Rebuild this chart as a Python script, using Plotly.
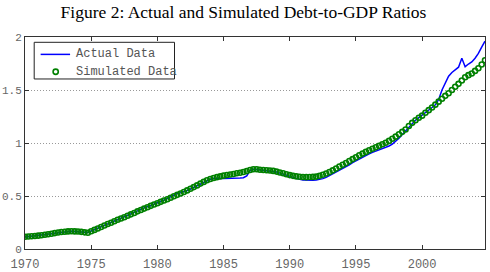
import numpy as np
import plotly.graph_objects as go

# Quarterly observations, 1970Q1 .. 2004Q4
start_year = 1970
n_quarters = 140
quarters = start_year + np.arange(n_quarters) / 4.0

actual = [
    0.113, 0.117, 0.121, 0.124,   # 1970
    0.127, 0.131, 0.135, 0.140,   # 1971
    0.145, 0.151, 0.156, 0.161,   # 1972
    0.164, 0.167, 0.167, 0.165,   # 1973
    0.163, 0.160, 0.156, 0.155,   # 1974
    0.170, 0.182, 0.195, 0.209,   # 1975
    0.223, 0.237, 0.250, 0.263,   # 1976
    0.277, 0.290, 0.302, 0.316,   # 1977
    0.330, 0.344, 0.360, 0.376,   # 1978
    0.390, 0.400, 0.410, 0.422,   # 1979
    0.435, 0.448, 0.462, 0.478,   # 1980
    0.495, 0.512, 0.525, 0.532,   # 1981
    0.540, 0.552, 0.566, 0.582,   # 1982
    0.598, 0.615, 0.632, 0.647,   # 1983
    0.658, 0.666, 0.670, 0.668,   # 1984
    0.664, 0.664, 0.665, 0.666,   # 1985
    0.667, 0.670, 0.672, 0.690,   # 1986
    0.740, 0.752, 0.750, 0.746,   # 1987
    0.743, 0.741, 0.738, 0.734,   # 1988
    0.726, 0.716, 0.706, 0.695,   # 1989
    0.683, 0.672, 0.664, 0.657,   # 1990
    0.651, 0.648, 0.647, 0.649,   # 1991
    0.652, 0.656, 0.664, 0.676,   # 1992
    0.692, 0.710, 0.727, 0.744,   # 1993
    0.760, 0.776, 0.795, 0.815,   # 1994
    0.833, 0.850, 0.866, 0.882,   # 1995
    0.897, 0.912, 0.924, 0.935,   # 1996
    0.946, 0.958, 0.972, 0.990,   # 1997
    1.015, 1.045, 1.080, 1.115,   # 1998
    1.150, 1.185, 1.215, 1.240,   # 1999
    1.262, 1.285, 1.310, 1.335,   # 2000
    1.360, 1.410, 1.500, 1.570,   # 2001
    1.630, 1.665, 1.690, 1.715,   # 2002
    1.800, 1.720, 1.745, 1.765,   # 2003
    1.800, 1.845, 1.905, 1.960,   # 2004
]

simulated = [
    0.115, 0.118, 0.120, 0.123,   # 1970
    0.126, 0.130, 0.134, 0.139,   # 1971
    0.144, 0.150, 0.155, 0.160,   # 1972
    0.163, 0.166, 0.167, 0.166,   # 1973
    0.165, 0.162, 0.157, 0.154,   # 1974
    0.168, 0.180, 0.193, 0.207,   # 1975
    0.222, 0.236, 0.248, 0.262,   # 1976
    0.276, 0.288, 0.300, 0.313,   # 1977
    0.327, 0.340, 0.355, 0.368,   # 1978
    0.381, 0.394, 0.407, 0.420,   # 1979
    0.432, 0.445, 0.457, 0.470,   # 1980
    0.484, 0.497, 0.511, 0.524,   # 1981
    0.538, 0.553, 0.568, 0.584,   # 1982
    0.600, 0.617, 0.633, 0.648,   # 1983
    0.660, 0.670, 0.678, 0.685,   # 1984
    0.692, 0.698, 0.703, 0.708,   # 1985
    0.714, 0.720, 0.727, 0.735,   # 1986
    0.745, 0.752, 0.752, 0.748,   # 1987
    0.745, 0.743, 0.741, 0.737,   # 1988
    0.730, 0.722, 0.714, 0.705,   # 1989
    0.697, 0.690, 0.685, 0.681,   # 1990
    0.679, 0.678, 0.679, 0.680,   # 1991
    0.683, 0.690, 0.700, 0.712,   # 1992
    0.726, 0.742, 0.760, 0.778,   # 1993
    0.795, 0.812, 0.830, 0.848,   # 1994
    0.866, 0.884, 0.900, 0.916,   # 1995
    0.932, 0.946, 0.960, 0.973,   # 1996
    0.988, 1.003, 1.020, 1.040,   # 1997
    1.060, 1.082, 1.105, 1.128,   # 1998
    1.160, 1.190, 1.215, 1.238,   # 1999
    1.258, 1.285, 1.310, 1.335,   # 2000
    1.362, 1.390, 1.418, 1.445,   # 2001
    1.470, 1.500, 1.530, 1.558,   # 2002
    1.590, 1.620, 1.640, 1.655,   # 2003
    1.680, 1.705, 1.740, 1.780,   # 2004
]

series_names = ["Actual Data", "Simulated Data"]
x_ticks = [1970, 1975, 1980, 1985, 1990, 1995, 2000]
y_ticks = [0, 0.5, 1, 1.5, 2]
y_tick_labels = ["0", "0.5", "1", "1.5", "2"]

title_text = "Figure 2: Actual and Simulated Debt-to-GDP Ratios"

mono = "Liberation Mono, Courier New, monospace"
serif = "Liberation Serif, Times New Roman, serif"
blue = "#0000ff"
green = "#008000"

fig = go.Figure()
fig.add_trace(go.Scatter(
    x=quarters, y=actual, mode="lines", name=series_names[0],
    line=dict(color=blue, width=1.5), showlegend=False,
))
fig.add_trace(go.Scatter(
    x=quarters, y=simulated, mode="markers", name=series_names[1],
    marker=dict(symbol="circle-open", color=green, size=5,
                line=dict(color=green, width=1.6)),
    showlegend=False,
))

# Legend drawn as a boxed key in the upper-left corner of the plot area
fig.add_shape(type="rect", xref="paper", yref="paper",
              x0=0.020, x1=0.325, y0=0.802, y1=0.975,
              line=dict(color="#222", width=1), fillcolor="white", layer="above")
fig.add_shape(type="line", xref="paper", yref="paper",
              x0=0.034, x1=0.098, y0=0.918, y1=0.918,
              line=dict(color=blue, width=1.5), layer="above")
fig.add_shape(type="circle", xref="paper", yref="paper",
              xsizemode="pixel", ysizemode="pixel",
              xanchor=0.0667, yanchor=0.836, x0=-2.6, x1=2.6, y0=-2.6, y1=2.6,
              line=dict(color=green, width=1.6), layer="above")
for name, yy in zip(series_names, [0.918, 0.836]):
    fig.add_annotation(text=name, xref="paper", yref="paper", x=0.106, y=yy,
                       xanchor="left", yanchor="middle", showarrow=False,
                       font=dict(family=mono, size=12, color="#555"))

fig.update_layout(
    width=490, height=272,
    margin=dict(l=25, r=5, t=37, b=23, autoexpand=False),
    paper_bgcolor="white", plot_bgcolor="white",
    title=dict(text=title_text, x=0.497, xanchor="center", y=0.958, yanchor="middle",
               font=dict(family=serif, size=17.5, color="black")),
    showlegend=False,
)
fig.update_xaxes(
    range=[1970, 2004.75], tickvals=x_ticks,
    ticks="inside", ticklen=4, tickcolor="#333",
    showline=True, linecolor="#333", linewidth=1, mirror="ticks",
    showgrid=False, zeroline=False, automargin=False,
    tickfont=dict(family=mono, size=12, color="#666"),
    ticklabelstandoff=4,
)
fig.update_yaxes(
    range=[0, 2], tickvals=y_ticks, ticktext=y_tick_labels,
    ticks="inside", ticklen=4, tickcolor="#333",
    showline=True, linecolor="#333", linewidth=1, mirror="ticks",
    showgrid=True, gridcolor="#999", griddash="1px,2px", gridwidth=1,
    zeroline=False, automargin=False,
    tickfont=dict(family=mono, size=11, color="#666"),
)

fig.write_html("out.html")
